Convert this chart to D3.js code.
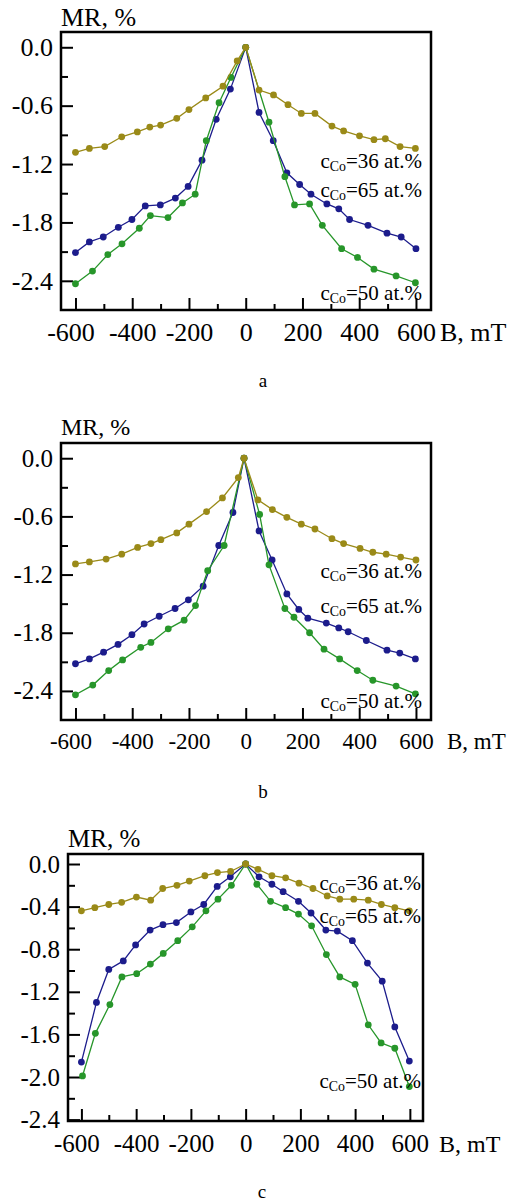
<!DOCTYPE html>
<html>
<head>
<meta charset="utf-8">
<script src="https://cdn.jsdelivr.net/npm/d3@7"></script>
<style>
    body { margin: 0; background: #fff; }
    svg { display: block; font-family: "Liberation Serif", "Times New Roman", serif; }
</style>
</head>
<body>
<div id="chart"></div>
<script>
// tick values
let xMajor = [-600, -400, -200, 0, 200, 400, 600];
let xMinor = [-500, -300, -100, 100, 300, 500];
let yMajorAB = [0, -0.6, -1.2, -1.8, -2.4];
let yMinorAB = [-0.3, -0.9, -1.5, -2.1];
let yMajorC = [0, -0.4, -0.8, -1.2, -1.6, -2.0, -2.4];
let yMinorC = [-0.2, -0.6, -1.0, -1.4, -1.8, -2.2];
let seriesNames = ["36", "65", "50"];

// panel a
let aB36 = [-600, -551, -497, -437, -382, -338, -300, -243, -200, -141, -80, -30, 0, 47, 98, 149, 196, 244, 304, 345, 401, 452, 492, 544, 598];
let aMR36 = [-1.08, -1.04, -1.02, -0.92, -0.87, -0.82, -0.80, -0.73, -0.64, -0.52, -0.40, -0.14, 0, -0.44, -0.49, -0.59, -0.68, -0.68, -0.81, -0.86, -0.91, -0.95, -0.94, -1.02, -1.04];
let aB65 = [-600, -551, -502, -449, -401, -354, -301, -248, -203, -154, -104, -54, 0, 47, 97, 145, 190, 230, 286, 328, 366, 431, 498, 548, 600];
let aMR65 = [-2.11, -2.00, -1.95, -1.85, -1.77, -1.63, -1.62, -1.55, -1.43, -1.16, -0.74, -0.43, 0, -0.67, -0.96, -1.29, -1.41, -1.51, -1.61, -1.66, -1.77, -1.83, -1.91, -1.95, -2.07];
let aB50 = [-600, -540, -486, -436, -375, -336, -274, -223, -178, -139, -94, -52, 0, 82, 138, 172, 225, 270, 338, 394, 452, 530, 598];
let aMR50 = [-2.43, -2.30, -2.13, -2.02, -1.86, -1.73, -1.75, -1.60, -1.51, -0.96, -0.57, -0.31, 0, -0.77, -1.33, -1.62, -1.61, -1.83, -2.07, -2.16, -2.28, -2.35, -2.42];

// panel b
let bB36 = [-600, -551, -492, -437, -381, -334, -299, -243, -200, -138, -82, -26, -6, 43, 94, 145, 196, 244, 304, 345, 403, 448, 495, 546, 600];
let bMR36 = [-1.09, -1.07, -1.04, -0.99, -0.92, -0.88, -0.84, -0.77, -0.68, -0.55, -0.41, -0.20, 0, -0.43, -0.53, -0.61, -0.68, -0.73, -0.83, -0.88, -0.93, -0.97, -0.99, -1.02, -1.05];
let bB65 = [-600, -551, -501, -450, -401, -358, -305, -249, -202, -150, -95, -45, -6, 47, 93, 145, 187, 219, 284, 328, 361, 425, 498, 543, 598];
let bMR65 = [-2.12, -2.07, -2.00, -1.92, -1.82, -1.71, -1.63, -1.55, -1.46, -1.32, -0.90, -0.56, 0, -0.75, -1.05, -1.40, -1.56, -1.65, -1.70, -1.75, -1.79, -1.88, -1.98, -2.01, -2.07];
let bB50 = [-600, -539, -483, -434, -370, -334, -273, -217, -177, -134, -76, -6, 49, 82, 138, 170, 225, 276, 331, 393, 448, 530, 598];
let bMR50 = [-2.44, -2.34, -2.19, -2.08, -1.95, -1.90, -1.76, -1.67, -1.52, -1.16, -0.90, 0, -0.58, -1.10, -1.55, -1.64, -1.80, -1.97, -2.07, -2.19, -2.29, -2.35, -2.43];

// panel c
let cB36 = [-600, -551, -500, -453, -399, -347, -303, -251, -206, -149, -103, -55, 0, 45, 96, 146, 195, 246, 298, 344, 395, 448, 496, 545, 598];
let cMR36 = [-0.44, -0.41, -0.38, -0.36, -0.31, -0.34, -0.23, -0.20, -0.16, -0.11, -0.08, -0.07, 0, -0.05, -0.11, -0.13, -0.18, -0.23, -0.30, -0.33, -0.33, -0.34, -0.38, -0.41, -0.44];
let cB65 = [-600, -545, -500, -447, -402, -349, -302, -253, -200, -153, -104, -56, 0, 49, 96, 137, 193, 239, 293, 335, 390, 445, 499, 545, 598];
let cMR65 = [-1.86, -1.30, -0.99, -0.91, -0.76, -0.62, -0.57, -0.55, -0.45, -0.38, -0.21, -0.12, 0, -0.12, -0.19, -0.26, -0.35, -0.46, -0.62, -0.63, -0.72, -0.93, -1.10, -1.53, -1.85];
let cB50 = [-596, -549, -496, -452, -398, -348, -301, -248, -195, -145, -101, -52, 0, 41, 91, 146, 193, 241, 295, 344, 400, 448, 495, 545, 598];
let cMR50 = [-1.99, -1.59, -1.32, -1.06, -1.03, -0.94, -0.84, -0.72, -0.59, -0.44, -0.33, -0.20, 0, -0.19, -0.35, -0.41, -0.47, -0.58, -0.85, -1.06, -1.13, -1.51, -1.68, -1.73, -2.09];

let colors = { "36": "#9a8a18", "65": "#1c1c8c", "50": "#27962a" };

class mrPanel {

    constructor(svg, config, series) {
        this.svg = svg;
        this.config = config;
        this.series = series;

        this.initVis();
    }

    initVis() {
        let vis = this;
        let c = vis.config;

        vis.g = vis.svg.append("g");

        vis.x = d3.scaleLinear().domain(c.xDomain).range([c.left, c.right]);
        vis.y = d3.scaleLinear().domain(c.yDomain).range([c.top, c.bottom]);

        // minor ticks x
        vis.g.append("g")
            .attr("class", "x-minor axis")
            .attr("transform", "translate(0," + c.bottom + ")")
            .call(d3.axisBottom(vis.x).tickValues(xMinor).tickSize(-6).tickFormat(""));

        // major ticks x (plain hyphen, not the unicode minus)
        vis.g.append("g")
            .attr("class", "x-axis axis")
            .attr("transform", "translate(0," + c.bottom + ")")
            .call(d3.axisBottom(vis.x).tickValues(xMajor).tickSize(-12).tickPadding(c.xPad).tickFormat(d => String(d)))
            .selectAll("text")
            .attr("dx", d => d === -600 ? -5 : 0)
            .style("font-size", c.xFont + "px");

        vis.g.append("g")
            .attr("class", "y-minor axis")
            .attr("transform", "translate(" + c.left + ",0)")
            .call(d3.axisLeft(vis.y).tickValues(c.yMinor).tickSize(-7).tickFormat(""));

        vis.g.append("g")
            .attr("class", "y-axis axis")
            .attr("transform", "translate(" + c.left + ",0)")
            .call(d3.axisLeft(vis.y).tickValues(c.yMajor).tickSize(-12).tickPadding(8).tickFormat(d => d.toFixed(1)))
            .selectAll("text")
            .style("font-size", c.yFont + "px");

        vis.g.selectAll(".axis").attr("font-family", null);
        vis.g.selectAll(".axis path.domain").remove();
        vis.g.selectAll(".axis line").attr("stroke", "#000").attr("stroke-width", 2);
        vis.g.selectAll(".axis text").attr("fill", "#000");

        // frame
        vis.g.append("rect")
            .attr("x", c.left)
            .attr("y", c.top)
            .attr("width", c.right - c.left)
            .attr("height", c.bottom - c.top)
            .attr("fill", "none")
            .attr("stroke", "#000")
            .attr("stroke-width", 2.5);

        // axis titles
        vis.g.append("text")
            .attr("x", c.left)
            .attr("y", c.mrY)
            .style("font-size", c.mrFont + "px")
            .text("MR, %");

        vis.g.append("text")
            .attr("x", c.bX)
            .attr("y", c.bottom + c.xPad + c.xFont * 0.71)
            .style("font-size", c.bFont + "px")
            .text("B, mT");

        vis.g.append("text")
            .attr("x", c.letterX)
            .attr("y", c.letterY)
            .attr("text-anchor", "middle")
            .style("font-size", "19px")
            .text(c.letter);

        vis.updateVis();
    }

    updateVis() {
        let vis = this;
        let c = vis.config;

        let line = d3.line()
            .x(d => vis.x(d[0]))
            .y(d => vis.y(d[1]));

        vis.series.forEach(function (s) {
            let pts = s.B.map((b, i) => [b, s.MR[i]]);

            vis.g.append("path")
                .datum(pts)
                .attr("fill", "none")
                .attr("stroke", colors[s.name])
                .attr("stroke-width", 1.3)
                .attr("d", line);

            vis.g.selectAll(".dot-" + s.name)
                .data(pts)
                .join("circle")
                .attr("class", "dot-" + s.name)
                .attr("cx", d => vis.x(d[0]))
                .attr("cy", d => vis.y(d[1]))
                .attr("r", 3.4)
                .attr("fill", colors[s.name]);
        });

        // labels of the curves
        seriesNames.forEach(function (n, i) {
            let t = vis.g.append("text")
                .attr("x", c.legendX)
                .attr("y", c.legendY[i])
                .attr("text-anchor", "end")
                .style("font-size", c.legendFont + "px");
            t.append("tspan").text("c");
            t.append("tspan").attr("dy", 3).style("font-size", (c.legendFont * 0.66) + "px").text("Co");
            t.append("tspan").attr("dy", -3).text("=" + n + " at.%");
        });
    }
}

let svg = d3.select("#chart").append("svg")
    .attr("width", 515)
    .attr("height", 1202);

svg.append("rect").attr("width", 515).attr("height", 1202).attr("fill", "#fff");

new mrPanel(svg, {
    left: 61, right: 431, top: 32, bottom: 310,
    xDomain: [-651, 653], yDomain: [0.157, -2.7],
    yMajor: yMajorAB, yMinor: yMinorAB,
    xFont: 26, yFont: 26, xPad: 13, mrFont: 26, mrY: 26, bFont: 26, bX: 440,
    legendX: 422, legendY: [168, 197, 300], legendFont: 21,
    letter: "a", letterX: 263, letterY: 387
}, [
    { name: "65", B: aB65, MR: aMR65 },
    { name: "50", B: aB50, MR: aMR50 },
    { name: "36", B: aB36, MR: aMR36 }
]);

new mrPanel(svg, {
    left: 61, right: 431, top: 443, bottom: 720,
    xDomain: [-651, 653], yDomain: [0.157, -2.7],
    yMajor: yMajorAB, yMinor: yMinorAB,
    xFont: 23, yFont: 25, xPad: 13, mrFont: 24, mrY: 435, bFont: 23, bX: 447,
    legendX: 422, legendY: [578, 613, 708], legendFont: 21,
    letter: "b", letterX: 263, letterY: 798
}, [
    { name: "65", B: bB65, MR: bMR65 },
    { name: "50", B: bB50, MR: bMR50 },
    { name: "36", B: bB36, MR: bMR36 }
]);

new mrPanel(svg, {
    left: 68, right: 423, top: 854, bottom: 1121,
    xDomain: [-649, 648], yDomain: [0.094, -2.413],
    yMajor: yMajorC, yMinor: yMinorC,
    xFont: 25, yFont: 25, xPad: 13, mrFont: 25, mrY: 847, bFont: 24, bX: 439,
    legendX: 421, legendY: [890, 923, 1088], legendFont: 21,
    letter: "c", letterX: 262, letterY: 1198
}, [
    { name: "65", B: cB65, MR: cMR65 },
    { name: "50", B: cB50, MR: cMR50 },
    { name: "36", B: cB36, MR: cMR36 }
]);
</script>
</body>
</html>
